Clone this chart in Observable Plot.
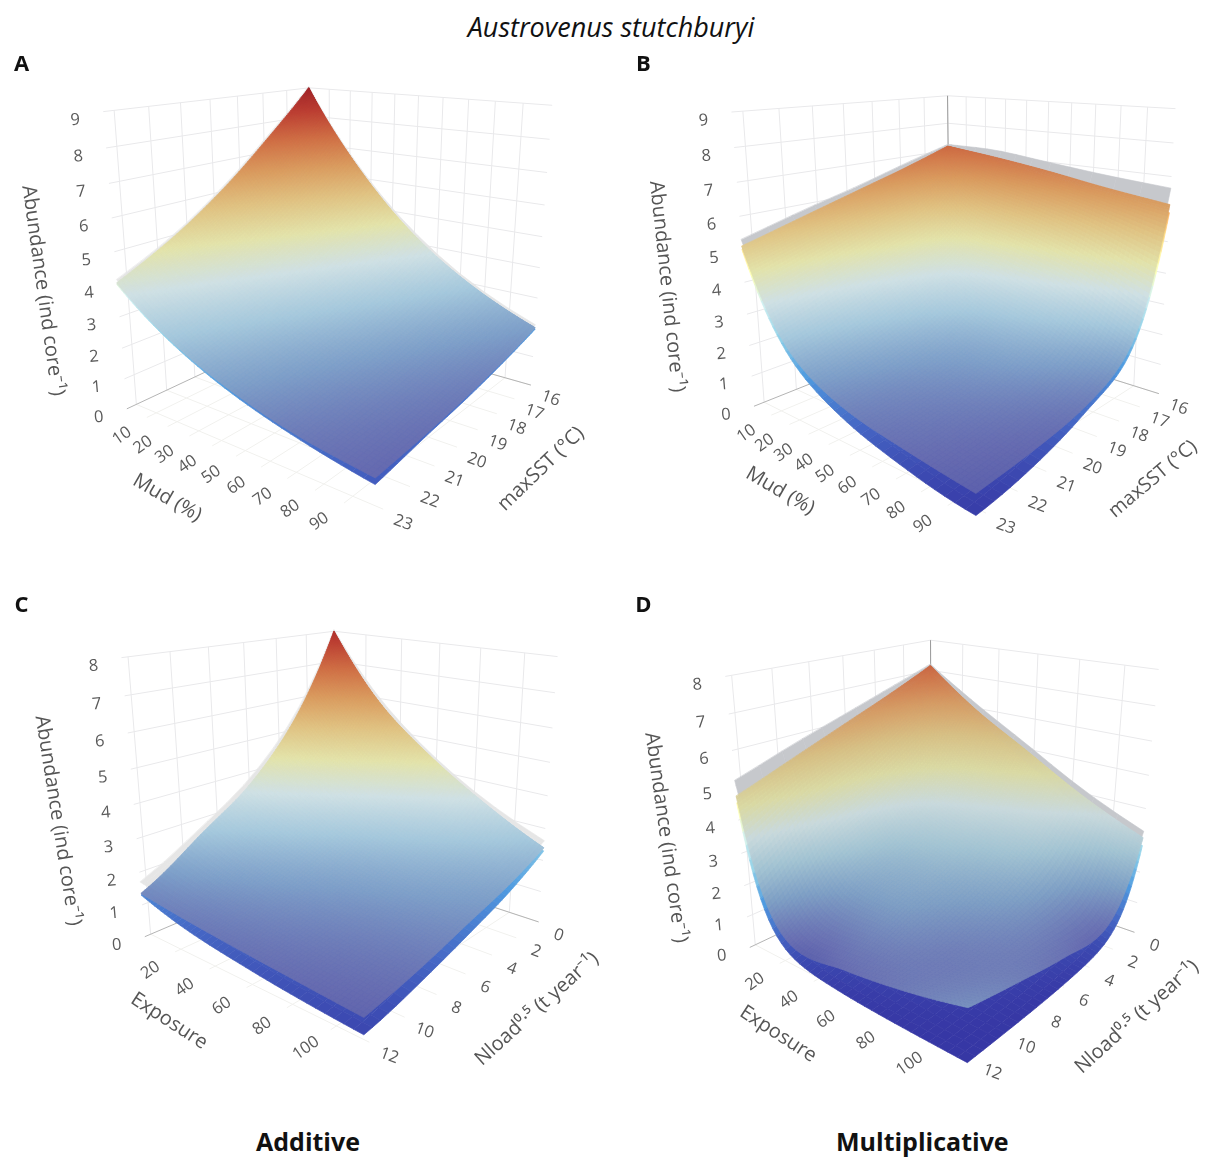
<!DOCTYPE html>
<html>
<head>
<meta charset="utf-8">
<script src="https://cdn.jsdelivr.net/npm/d3@7"></script>
<script src="https://cdn.jsdelivr.net/npm/@observablehq/plot@0.6"></script>
<style>
html,body{margin:0;padding:0;background:#fff}
#page{width:1205px;height:1157px;overflow:hidden;font-family:"Open Sans",sans-serif}
#title{height:45px;line-height:54px;text-align:center;font-style:italic;font-size:27px;color:#111;padding-left:17px;box-sizing:border-box}
#grid{display:grid;grid-template-columns:610px 595px;grid-template-rows:545px 535px}
#grid svg{display:block;filter:blur(.5px)}
#caption{position:relative;height:32px;font-weight:700;font-size:25px;color:#111}
#caption div{position:absolute;top:-2px;line-height:36px;white-space:nowrap}
</style>
</head>
<body>
<div id="page">
<div id="title">Austrovenus stutchburyi</div>
<div id="grid"></div>
<div id="caption"><div style="left:256px">Additive</div><div style="left:836px">Multiplicative</div></div>
</div>
<script>
// Tick labels
const mudTicks = [10,20,30,40,50,60,70,80,90];
const sstTicks = [16,17,18,19,20,21,22,23];
const exposureTicks = [20,40,60,80,100];
const nloadTicks = [0,2,4,6,8,10,12];
const abundanceTicks9 = [0,1,2,3,4,5,6,7,8,9];
const abundanceTicks8 = [0,1,2,3,4,5,6,7,8];

// Abundance: rows = first axis low→high, columns = second axis low→high
const meanA = [[9.0,7.47,6.07,4.93,4.05],[6.28,5.1,4.14,3.37,2.75],[4.29,3.48,2.83,2.3,1.9],[2.93,2.38,1.95,1.62,1.35],[2.0,1.65,1.38,1.18,1.05]];
const lowerA = [[8.95,7.42,6.02,4.88,4],[6.22,5.03,4.08,3.3,2.7],[4.22,3.42,2.76,2.24,1.84],[2.87,2.32,1.88,1.55,1.27],[1.95,1.6,1.32,1.11,.87]];
const upperA = [[9.05,7.55,6.15,5,4.15],[6.35,5.2,4.25,3.45,2.85],[4.4,3.6,2.95,2.42,2],[3.02,2.5,2.05,1.7,1.45],[2.1,1.75,1.47,1.27,1.12]];

const meanB = [[7.15,6.6,6.1,5.6,5.1],[6.95,4.4,3.55,2.8,2.2],[6.7,3.7,2.25,1.65,1.3],[6.4,3,1.75,1.2,.95],[6.15,2,1.15,.85,.7]];
const lowerB = [[7.05,6.5,5.95,5.45,5],[6.8,4.2,3.35,2.6,2],[6.5,3.5,2.05,1.35,.95],[6.2,2.8,1.45,.75,.42],[5.9,1.8,.95,.4,.12]];
const upperB = [[7.22,6.75,6.25,5.8,5.3],[7.2,4.7,3.85,3.1,2.5],[7,4,2.55,1.95,1.6],[6.8,3.3,2.05,1.5,1.25],[6.65,2.4,1.55,1.25,1.05]];

const meanC = [[8,5.2,3.5,2.4,1.35],[5.8,3.95,2.7,1.8,1.15],[4.4,3,2.05,1.45,1],[3.3,2.35,1.7,1.2,.87],[2.4,1.85,1.45,1.05,.75]];
const lowerC = [[7.9,5.1,3.4,2.3,1.3],[5.7,3.75,2.5,1.55,.85],[4.3,2.85,1.85,1.15,.6],[3.2,2.15,1.45,.9,.42],[2.3,1.6,1.1,.65,.3]];
const upperC = [[8.05,5.35,3.7,2.62,1.7],[5.95,4.1,2.85,2,1.45],[4.5,3.15,2.2,1.65,1.3],[3.42,2.5,1.85,1.4,1.2],[2.62,2.05,1.6,1.3,1.1]];

const meanD = [[7.15,6.5,5.9,5.3,4.7],[5.9,4,2.8,1.95,.75],[4.9,3.2,2.2,1.6,.85],[3.9,2.4,1.6,1.15,1.1],[3.1,.85,.95,1.2,1.5]];
const lowerD = [[6.9,6.3,5.7,5.1,4.5],[5.6,3.6,2.2,1.2,.4],[4.5,2.6,1.5,.7,.1],[3.5,1.4,.7,.25,.03],[2.85,.35,.1,.03,.01]];
const upperD = [[7.2,6.7,6.2,5.7,5.15],[6.1,4.3,3.1,2.2,1.3],[5.1,3.5,2.6,1.9,1.4],[4.1,2.7,2,1.6,1.5],[3.3,1.2,1.4,1.6,1.8]];

// Colour ramps, as fractions of each panel's colour range
const rampStops = [0,.1,.2,.3,.4,.5,.6,.7,.8,.9,1];
const rampColors = ["#3a3a9e","#666bb0","#7f9fc8","#a6c8dc","#cfe0e4","#e2e2aa","#dfc283","#d99c60","#cf7046","#bb3f33","#9c2027"];
const mutedColors = ["#3a3a9e","#6a70b2","#7f9fc4","#a3c3d2","#c9d9dc","#d9d9a4","#d6bf85","#d49c66","#cd7048","#bb3f33","#9c2027"];
const sideColors = ["#3636a4","#4566c4","#4f9be0","#8fd0e8","#d0f0f0","#ffffb0","#fed880","#fba050","#f07040","#d73027","#a50026"];

// View of each panel: calibration of the box corners in panel space
const panels = [
 {letter:"A",w:610,h:545,letterAt:[21,18],ramp:rampColors,
  mean:meanA,lower:lowerA,upper:upperA,upperFill:"#e6e6e6",colorRange:[.2,9.1],
  xTicks:mudTicks,xDomain:[0,100],yTicks:sstTicks,yDomain:[16,23.3],zTicks:abundanceTicks9,zTop:9,
  corners:{L:[127,365],F:[373,470],R:[531,340],B:[310,276],Lt:[103,65],Rt:[552,60],Bt:[308,43]},
  titles:[["Mud (%)",167,452,30],["maxSST (°C)",540,423,-44],["Abundance (ind core⁻¹)",43,245,82]]},
 {letter:"B",w:595,h:545,letterAt:[33,18],ramp:rampColors,
  mean:meanB,lower:lowerB,upper:upperB,upperFill:"#c6c8cc",colorRange:[0,8.8],
  xTicks:mudTicks,xDomain:[0,100],yTicks:sstTicks,yDomain:[16,23.3],zTicks:abundanceTicks9,zTop:9,
  corners:{L:[143,360],F:[366,475],R:[548,348],B:[340,283],Lt:[121,67],Rt:[565,63],Bt:[337,50]},
  titles:[["Mud (%)",170,445,30],["maxSST (°C)",542,433,-40,19.5],["Abundance (ind core⁻¹)",57,241,84]]},
 {letter:"C",w:610,h:535,letterAt:[21,14],ramp:rampColors,
  mean:meanC,lower:lowerC,upper:upperC,upperFill:"#e6e6e6",colorRange:[0,8.5],
  xTicks:exposureTicks,xDomain:[1,114],yTicks:nloadTicks,yDomain:[0,12.3],zTicks:abundanceTicks8,zTop:8,
  corners:{L:[142,346],F:[365,455],R:[536,333],B:[338,264],Lt:[122,68],Rt:[558,65],Bt:[332,41]},
  titles:[["Exposure",169,430,33],["Nload⁰·⁵ (t year⁻¹)",536,418,-42],["Abundance (ind core⁻¹)",58,230,81]]},
 {letter:"D",w:595,h:535,letterAt:[33,14],ramp:mutedColors,
  mean:meanD,lower:lowerD,upper:upperD,upperFill:"#c6c8cc",colorRange:[0,8.7],
  xTicks:exposureTicks,xDomain:[1,114],yTicks:nloadTicks,yDomain:[0,12.3],zTicks:abundanceTicks8,zTop:8,
  corners:{L:[139,354],F:[357,475],R:[524,339],B:[321,274],Lt:[115,87],Rt:[548,80],Bt:[320,48]},
  titles:[["Exposure",168,443,33],["Nload⁰·⁵ (t year⁻¹)",526,426,-42],["Abundance (ind core⁻¹)",56,247,82]]}
];

// Least-squares projective camera from the seven visible box corners
function solveCamera(c){
  const world = {L:[0,1,0],F:[1,1,0],R:[1,0,0],B:[0,0,0],Lt:[0,1,1],Rt:[1,0,1],Bt:[0,0,1]};
  const A=[],b=[];
  for(const k in world){
    const [X,Y,Z]=world[k],[u0,v0]=c[k],u=u0/1000,v=v0/1000;
    A.push([X,Y,Z,1,0,0,0,0,-u*X,-u*Y,-u*Z]);b.push(u);
    A.push([0,0,0,0,X,Y,Z,1,-v*X,-v*Y,-v*Z]);b.push(v);
  }
  const n=11,M=d3.range(n).map(i=>d3.range(n+1).map(j=>j<n?d3.sum(A,(r)=>r[i]*r[j]):d3.sum(A,(r,k)=>r[i]*b[k])));
  for(let i=0;i<n;i++){
    let p=i;for(let r=i+1;r<n;r++)if(Math.abs(M[r][i])>Math.abs(M[p][i]))p=r;
    [M[i],M[p]]=[M[p],M[i]];
    for(let r=0;r<n;r++){if(r===i)continue;const f=M[r][i]/M[i][i];for(let j=i;j<=n;j++)M[r][j]-=f*M[i][j];}
  }
  const h=M.map((r,i)=>r[n]/r[i]);
  return (m,s,w)=>{
    const d=h[8]*m+h[9]*s+h[10]*w+1;
    return [1000*(h[0]*m+h[1]*s+h[2]*w+h[3])/d,1000*(h[4]*m+h[5]*s+h[6]*w+h[7])/d];
  };
}

// Smooth display tessellation of a read grid (Catmull-Rom on log abundance),
// with cells packed closer where the surface leaves its back edges
function cubic(a,t){
  const n=a.length-1,x=Math.min(n-1e-9,t*n),i=Math.floor(x),f=x-i;
  const p1=a[i],p2=a[i+1],p0=i>0?a[i-1]:2*p1-p2,p3=i<n-1?a[i+2]:2*p2-p1;
  return .5*((2*p1)+(-p0+p2)*f+(2*p0-5*p1+4*p2-p3)*f*f+(-p0+3*p1-3*p2+p3)*f*f*f);
}
function sampler(grid){
  const lg=grid.map(r=>r.map(Math.log));
  return (m,s)=>Math.exp(cubic(lg.map(r=>cubic(r,s)),m));
}
function mesh(grid,n,project,zTop){
  const z=sampler(grid),rows=[];
  const pos=d3.range(n+1).map(a=>Math.pow(a/n,1.5));
  const vals=pos.map(a=>pos.map(b=>z(a,b)));
  let id=0;
  for(let i=0;i<n;i++)for(let j=0;j<n;j++){
    const v=(vals[i][j]+vals[i+1][j]+vals[i+1][j+1]+vals[i][j+1])/4;
    for(const [a,b] of [[i,j],[i+1,j],[i+1,j+1],[i,j+1]]){
      const [x,y]=project(pos[a],pos[b],vals[a][b]/zTop);
      rows.push({id,x,y,v});
    }
    id++;
  }
  return rows;
}

const gridEl=document.getElementById("grid");
for(const p of panels){
  const proj=solveCamera(p.corners);
  const mOf=v=>(v-p.xDomain[0])/(p.xDomain[1]-p.xDomain[0]);
  const sOf=v=>(v-p.yDomain[0])/(p.yDomain[1]-p.yDomain[0]);
  const wOf=v=>v/p.zTop;
  const seg=(a,b)=>{const [x1,y1]=proj(...a),[x2,y2]=proj(...b);return {x1,y1,x2,y2};};
  const wall=[],floor=[];
  for(const z of p.zTicks){ if(z===0)continue; wall.push(seg([0,1,wOf(z)],[0,0,wOf(z)]),seg([0,0,wOf(z)],[1,0,wOf(z)])); }
  for(const t of p.xTicks){ wall.push(seg([mOf(t),0,0],[mOf(t),0,1])); floor.push(seg([mOf(t),0,0],[mOf(t),1,0])); }
  for(const t of p.yTicks){ wall.push(seg([0,sOf(t),0],[0,sOf(t),1])); floor.push(seg([0,sOf(t),0],[1,sOf(t),0])); }
  const axes=[seg([0,1,0],[0,0,0]),seg([1,0,0],[0,0,0])];
  const vertical=[seg([0,0,0],[0,0,1])];
  const label=(ticks,f)=>ticks.map(t=>{const [x,y]=f(t);return {t:String(t),x,y};});
  const xLab=label(p.xTicks,t=>proj(mOf(t),1,0));
  const yLab=label(p.yTicks,t=>proj(1,sOf(t),0));
  const zLab=label(p.zTicks,t=>proj(0,1,wOf(t)));
  const tick={text:"t",x:"x",y:"y",fontSize:16.5,fill:"#5a5a5a",fontFamily:"Open Sans"};
  const titles=p.titles.map(([t,x,y,r,s])=>({t,x,y,r,s:s||20}));
  const sideColor=d3.scaleLinear().domain(rampStops.map(f=>p.colorRange[0]+f*(p.colorRange[1]-p.colorRange[0]))).range(sideColors).clamp(true);
  const lowerRows=mesh(p.lower,40,proj,p.zTop).map(r=>({...r,c:d3.rgb(sideColor(r.v)).formatHex()}));
  const svg=Plot.plot({
    width:p.w,height:p.h,margin:0,
    x:{domain:[0,p.w],range:[0,p.w],axis:null},
    y:{domain:[0,p.h],range:[0,p.h],axis:null},
    color:{type:"linear",domain:rampStops.map(f=>p.colorRange[0]+f*(p.colorRange[1]-p.colorRange[0])),range:p.ramp,clamp:true},
    style:{background:"transparent",overflow:"visible"},
    marks:[
      Plot.link(floor,{x1:"x1",y1:"y1",x2:"x2",y2:"y2",stroke:"#f1f1ee",strokeWidth:1}),
      Plot.link(wall,{x1:"x1",y1:"y1",x2:"x2",y2:"y2",stroke:"#e9e9eb",strokeWidth:1}),
      Plot.link(axes,{x1:"x1",y1:"y1",x2:"x2",y2:"y2",stroke:"#b4b4b4",strokeWidth:1}),
      Plot.link(vertical,{x1:"x1",y1:"y1",x2:"x2",y2:"y2",stroke:"#999999",strokeWidth:1}),
      Plot.line(mesh(p.upper,14,proj,p.zTop),{x:"x",y:"y",z:"id",fill:p.upperFill,stroke:p.upperFill,strokeWidth:.6,curve:"linear-closed"}),
      Plot.line(lowerRows,{x:"x",y:"y",z:"id",fill:"c",stroke:"c",strokeWidth:.7,curve:"linear-closed"}),
      Plot.line(mesh(p.mean,90,proj,p.zTop),{x:"x",y:"y",z:"id",fill:"v",stroke:"v",strokeWidth:.7,curve:"linear-closed"}),
      Plot.text(xLab,{...tick,dx:-25,dy:18,rotate:-35}),
      Plot.text(yLab,{...tick,dx:20,dy:13,rotate:20}),
      Plot.text(zLab,{...tick,dx:-28,dy:8,rotate:-5}),
      Plot.text(titles,{text:"t",x:"x",y:"y",rotate:"r",fontSize:"s",fill:"#555555",fontFamily:"Open Sans"}),
      Plot.text([p.letter],{x:()=>p.letterAt[0],y:()=>p.letterAt[1],text:d=>d,fontSize:22,fontWeight:700,fill:"#111",fontFamily:"Open Sans"})
    ]
  });
  gridEl.appendChild(svg);
}
</script>
</body>
</html>
